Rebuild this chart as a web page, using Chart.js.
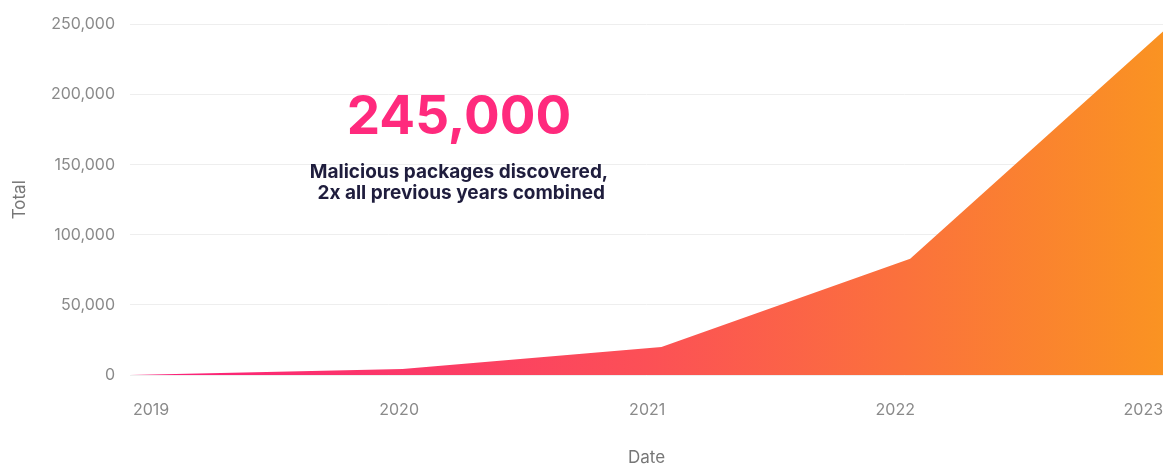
<!DOCTYPE html>
<html>
<head>
<meta charset="utf-8">
<script src="https://cdn.jsdelivr.net/npm/chart.js@4.4.1/dist/chart.umd.min.js"></script>
<style>
  html, body { margin: 0; padding: 0; background: #fff; }
  #wrap { width: 1165px; height: 465px; }
</style>
</head>
<body>
<div id="wrap"><canvas id="chart" width="1165" height="465"></canvas></div>
<script>
// ── data ─────────────────────────────────────
const dates = ['2018-12-01', '2020-01-06', '2021-01-22', '2022-01-23', '2023-01-30'];
const totals = [0, 4200, 20000, 83000, 245000];
const yearTicks = [2019, 2020, 2021, 2022, 2023];
const yTicks = [0, 50000, 100000, 150000, 200000, 250000];
const headline = '245,000';
const subLines = ['Malicious packages discovered,', ' 2x all previous years combined'];

const FONT = 'Inter, "Noto Sans", sans-serif';
const GREY = '#8a8a8a';

/** Date string -> fractional year, so a linear axis can space it */
function toYear(d) {
  const t = new Date(d + 'T00:00:00Z');
  const y = t.getUTCFullYear();
  const start = Date.UTC(y, 0, 1);
  const end = Date.UTC(y + 1, 0, 1);
  return y + (t - start) / (end - start);
}

const points = dates.map((d, i) => ({ x: toYear(d), y: totals[i] }));

/** Horizontal pink -> orange fill across the chart area */
function areaGradient(ctx) {
  const { chart } = ctx;
  const area = chart.chartArea;
  if (!area) return '#fb4d5c';
  const g = chart.ctx.createLinearGradient(area.left, 0, area.right, 0);
  g.addColorStop(0, '#fb1e7c');
  g.addColorStop(0.5, '#fc5056');
  g.addColorStop(1, '#fa9322');
  return g;
}

// Headline text drawn over the plot
const calloutPlugin = {
  id: 'callout',
  afterDatasetsDraw(chart) {
    const { ctx, chartArea } = chart;
    const cx = chartArea.left + 329;
    ctx.save();
    ctx.textAlign = 'center';
    ctx.textBaseline = 'middle';
    ctx.fillStyle = '#ff2a7d';
    ctx.font = `bold 53px ${FONT}`;
    ctx.fillText(headline, cx, 118);
    ctx.fillStyle = '#1f1d3d';
    ctx.font = `bold 19px ${FONT}`;
    subLines.forEach((line, i) => ctx.fillText(line, cx, 172 + i * 21));
    ctx.restore();
  },
};

new Chart(document.getElementById('chart'), {
  type: 'line',
  data: {
    datasets: [{
      label: 'Total',
      data: points,
      fill: 'origin',
      backgroundColor: areaGradient,
      borderWidth: 0,
      pointRadius: 0,
      tension: 0,
    }],
  },
  options: {
    responsive: false,
    animation: false,
    layout: { padding: { top: 13, right: 2, left: 0, bottom: -3 } },
    plugins: { legend: { display: false }, tooltip: { enabled: false } },
    scales: {
      x: {
        type: 'linear',
        min: points[0].x,
        max: points[points.length - 1].x,
        afterBuildTicks: (scale) => { scale.ticks = yearTicks.map((v) => ({ value: v })); },
        afterFit: (scale) => {
          scale.height = 93;
          // labels sit inside the plot width, no extra side padding needed
          scale.paddingLeft = 0;
          scale.paddingRight = 0;
        },
        grid: { display: false },
        border: { display: false },
        ticks: {
          color: GREY,
          font: { family: FONT, size: 16 },
          padding: 18,
          maxRotation: 0,
          callback: (v) => String(v),
        },
        title: {
          display: true,
          text: 'Date',
          color: '#777',
          font: { family: FONT, size: 17 },
          padding: { top: 0, bottom: 0 },
        },
      },
      y: {
        min: 0,
        max: 250000,
        afterBuildTicks: (scale) => { scale.ticks = yTicks.map((v) => ({ value: v })); },
        afterFit: (scale) => { scale.width = 130; },
        grid: { color: '#eeeeee', drawTicks: false },
        border: { display: false },
        ticks: {
          color: GREY,
          font: { family: FONT, size: 16 },
          padding: 15,
          callback: (v) => v.toLocaleString('en-US'),
        },
        title: {
          display: true,
          text: 'Total',
          color: '#777',
          font: { family: FONT, size: 17 },
          padding: { top: 10, bottom: 0 },
        },
      },
    },
  },
  plugins: [calloutPlugin],
});
</script>
</body>
</html>
